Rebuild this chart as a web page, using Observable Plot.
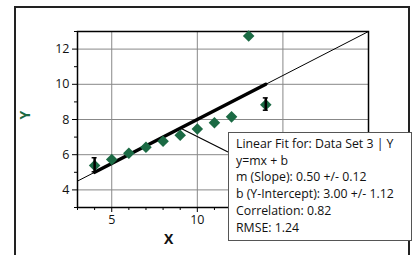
<!DOCTYPE html>
<html>
<head>
<meta charset="utf-8">
<script src="https://cdn.jsdelivr.net/npm/d3@7"></script>
<script src="https://cdn.jsdelivr.net/npm/@observablehq/plot@0.6"></script>
<style>
  html, body { margin: 0; padding: 0; background: #fff; }
  #wrap { position: relative; width: 414px; height: 255px; overflow: hidden; font-family: "Open Sans", "Noto Sans", sans-serif; }
  #frame { position: absolute; left: 14px; top: 6px; width: 396px; height: 270px; border: 2px solid #222; box-sizing: border-box; }
  #chart { position: absolute; left: 0; top: 0; }
  #note { position: absolute; left: 228px; top: 132px; width: 184px; height: 109px; background: #fff; border: 1px solid #555; box-sizing: border-box; padding: 3px 0 0 7px; font-size: 12.3px; line-height: 16.7px; color: #111; white-space: nowrap; }
  #overlay { position: absolute; left: 0; top: 0; pointer-events: none; }
  .axlab { position: absolute; font-weight: bold; font-size: 14px; line-height: 14px; }
</style>
</head>
<body>
<div id="wrap">
  <div id="frame"></div>
  <div id="chart"></div>
  <svg id="overlay" width="414" height="255"></svg>
  <div id="xlab" class="axlab" style="left:164px; top:232px; color:#111;"></div>
  <div id="ylab" class="axlab" style="left:21px; top:108px; color:#1b6a44; transform: rotate(-90deg); transform-origin: center;"></div>
  <div id="note"></div>
</div>
<script>
// Anscombe data set 3
const xs = [10, 8, 13, 9, 11, 14, 6, 4, 12, 7, 5];
const ys = [7.46, 6.77, 12.74, 7.11, 7.81, 8.84, 6.08, 5.39, 8.15, 6.42, 5.73];
const slope = 0.50, intercept = 3.00;
const errX = [4, 14];
const errLow = [5.0, 8.5];
const errHigh = [5.8, 9.2];
const xTicks = [5, 10, 15];
const xTickLabels = ["5", "10", ""];   // the "15" label is hidden under the fit box
const xMinor = [3,4,6,7,8,9,11,12,13,14,16,17,18,19,20];
const yTicks = [4, 6, 8, 10, 12];
const yMinor = [3,5,7,9,11,13];
const xLabel = "X", yLabel = "Y";
const noteLines = [
  "Linear Fit for: Data Set 3 | Y",
  "y=mx + b",
  "m (Slope): 0.50 +/- 0.12",
  "b (Y-Intercept): 3.00 +/- 1.12",
  "Correlation: 0.82",
  "RMSE: 1.24"
];
const noteAnchorX = 9;

const points = xs.map((x, i) => ({x, y: ys[i]}));
const fitFull = [3, 20].map(x => ({x, y: slope * x + intercept}));
const fitData = [d3.min(xs), d3.max(xs)].map(x => ({x, y: slope * x + intercept}));
const errs = errX.map((x, i) => ({x, lo: errLow[i], hi: errHigh[i]}));

const green = "#1b6a44";

const plot = Plot.plot({
  width: 414,
  height: 255,
  marginLeft: 77,
  marginRight: 46,
  marginTop: 31,
  marginBottom: 48,
  style: {fontFamily: "'Open Sans', 'Noto Sans', sans-serif", fontSize: "11.5px", color: "#111", background: "transparent"},
  x: {domain: [3, 20], label: null},
  y: {domain: [3, 13], label: null},
  marks: [
    Plot.gridX(xTicks, {stroke: "#888", strokeOpacity: 1, strokeWidth: 1}),
    Plot.gridY(yTicks, {stroke: "#888", strokeOpacity: 1, strokeWidth: 1}),
    Plot.frame({stroke: "#000", strokeWidth: 1.5}),
    Plot.axisX(xTicks, {tickSize: 5, tickPadding: 3, stroke: "#000", fontSize: 12.5, label: null,
      tickFormat: d => xTickLabels[xTicks.indexOf(d)]}),
    Plot.axisX(xMinor, {tickSize: 3, tickFormat: () => "", stroke: "#000", label: null}),
    Plot.axisY(yTicks, {tickSize: 5, tickPadding: 3, stroke: "#000", fontSize: 12.5, label: null}),
    Plot.axisY(yMinor, {tickSize: 3, tickFormat: () => "", stroke: "#000", label: null}),
    Plot.line(fitFull, {x: "x", y: "y", stroke: "#000", strokeWidth: 1}),
    Plot.line(fitData, {x: "x", y: "y", stroke: "#000", strokeWidth: 3.5}),
    Plot.dot(points, {x: "x", y: "y", symbol: "diamond2", r: 5.2, fill: green, stroke: "none"}),
    Plot.ruleX(errs, {x: "x", y1: "lo", y2: "hi", stroke: "#000", strokeWidth: 2.5})
  ]
});
document.getElementById("chart").appendChild(plot);

const sx = plot.scale("x"), sy = plot.scale("y");
const ov = d3.select("#overlay");
// error-bar caps
errs.forEach(e => {
  [e.lo, e.hi].forEach(v => {
    ov.append("line").attr("x1", sx.apply(e.x) - 2.5).attr("x2", sx.apply(e.x) + 2.5)
      .attr("y1", sy.apply(v)).attr("y2", sy.apply(v)).attr("stroke", "#000").attr("stroke-width", 1.5);
  });
});
// connector from the fit line to the note box
ov.append("line")
  .attr("x1", sx.apply(noteAnchorX)).attr("y1", sy.apply(slope * noteAnchorX + intercept))
  .attr("x2", 228).attr("y2", 152)
  .attr("stroke", "#000").attr("stroke-width", 1.2);

document.getElementById("xlab").textContent = xLabel;
document.getElementById("ylab").textContent = yLabel;
document.getElementById("note").innerHTML = noteLines.map(t => `<div>${t}</div>`).join("");
</script>
</body>
</html>
